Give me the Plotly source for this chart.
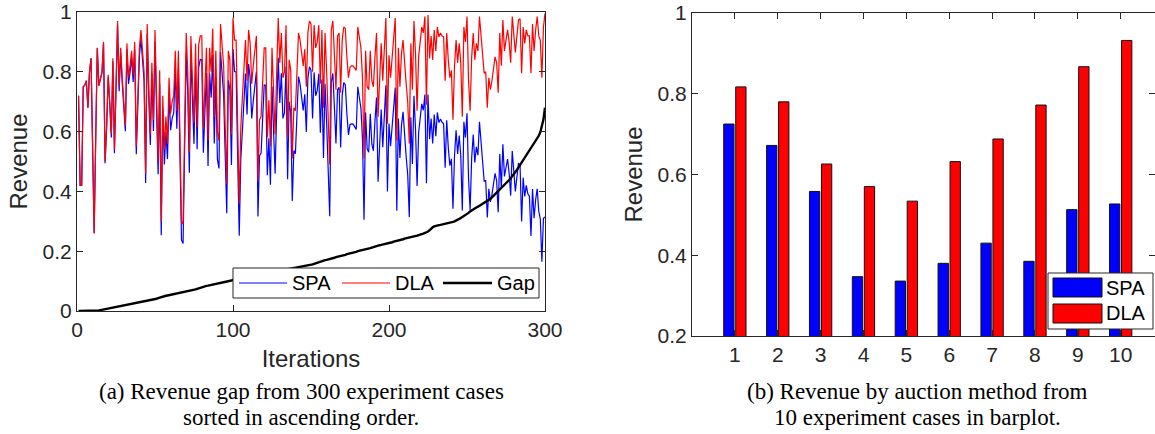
import plotly.graph_objects as go

# ---------------- data ----------------
iterations = list(range(1, 301))

dla = [
    0.72, 0.42, 0.42, 0.75, 0.755, 0.77, 0.68, 0.80, 0.845, 0.55,
    0.26, 0.58, 0.88, 0.755, 0.78, 0.80, 0.90, 0.50, 0.62, 0.79,
    0.70, 0.59, 0.845, 0.54, 0.75, 0.97, 0.75, 0.88, 0.78, 0.70,
    0.62, 0.895, 0.78, 0.82, 0.87, 0.79, 0.90, 0.55, 0.74, 0.88,
    0.94, 0.86, 0.80, 0.46, 0.96, 0.75, 0.59, 0.83, 0.64, 0.94,
    0.70, 0.50, 0.805, 0.30, 0.72, 0.54, 0.65, 0.56, 0.78, 0.66,
    0.70, 0.72, 0.87, 0.67, 0.87, 0.58, 0.30, 0.29, 0.61, 0.93,
    0.80, 0.53, 0.92, 0.78, 0.63, 0.895, 0.615, 0.89, 0.92, 0.92,
    0.61, 0.75, 0.88, 0.57, 0.88, 0.80, 0.945, 0.65, 0.87, 0.60,
    0.57, 0.96, 0.88, 0.82, 0.62, 0.425, 0.87, 0.84, 0.59, 0.98,
    0.906, 0.906, 0.62, 0.36, 0.615, 0.73, 0.845, 0.906, 0.77, 0.94,
    0.895, 0.76, 0.82, 0.87, 0.92, 0.436, 0.64, 0.65, 0.77, 0.88,
    0.88, 0.58, 0.705, 0.55, 0.88, 0.69, 0.59, 0.80, 0.98, 0.83,
    0.93, 0.78, 0.80, 0.956, 0.58, 0.84, 0.805, 0.51, 0.68, 0.67,
    0.82, 0.93, 0.906, 0.85, 0.82, 0.875, 0.75, 0.93, 0.97, 0.96,
    0.80, 0.956, 0.88, 0.90, 0.956, 0.76, 0.94, 0.68, 0.93, 0.805,
    0.66, 0.49, 0.94, 0.97, 0.86, 0.74, 0.92, 0.93, 0.73, 0.906,
    0.95, 0.945, 0.85, 0.78, 0.815, 0.82, 0.82, 0.81, 0.805, 0.95,
    0.92, 0.88, 0.78, 0.51, 0.87, 0.75, 0.74, 0.87, 0.77, 0.75,
    0.85, 0.93, 0.65, 0.805, 0.895, 0.77, 0.88, 0.98, 0.626, 0.855,
    0.78, 0.84, 0.90, 0.98, 0.57, 0.88, 0.75, 0.86, 0.906, 0.82,
    0.76, 0.70, 0.56, 0.895, 0.74, 0.97, 0.86, 0.67, 0.85, 0.90,
    0.95, 0.93, 0.985, 0.69, 0.99, 0.845, 0.92, 0.84, 0.94, 0.87,
    0.95, 0.917, 0.93, 0.92, 0.917, 0.77, 0.93, 0.84, 0.78, 0.805,
    0.64, 0.82, 0.906, 0.83, 0.895, 0.83, 0.65, 0.95, 0.90, 0.985,
    0.77, 0.67, 0.85, 0.93, 0.84, 0.895, 0.87, 0.985, 0.92, 0.87,
    0.795, 0.80, 0.68, 0.78, 0.74, 0.77, 0.82, 0.85, 0.83, 0.73,
    0.93, 0.82, 0.973, 0.87, 0.906, 0.94, 0.90, 0.83, 0.985, 0.92,
    0.865, 0.92, 0.973, 0.978, 0.795, 0.95, 0.895, 0.94, 0.92, 0.92,
    0.795, 0.96, 0.87, 0.94, 0.985, 0.92, 0.905, 0.78, 0.95, 0.995,
]

spa = [
    0.72, 0.42, 0.42, 0.75, 0.755, 0.77, 0.68, 0.80, 0.845, 0.55,
    0.26, 0.58, 0.879, 0.753, 0.777, 0.796, 0.895, 0.494, 0.613, 0.782,
    0.691, 0.580, 0.834, 0.528, 0.737, 0.956, 0.735, 0.864, 0.763, 0.682,
    0.601, 0.875, 0.759, 0.798, 0.847, 0.766, 0.875, 0.524, 0.713, 0.852,
    0.911, 0.830, 0.769, 0.428, 0.927, 0.716, 0.555, 0.794, 0.602, 0.900,
    0.659, 0.457, 0.760, 0.253, 0.671, 0.490, 0.599, 0.508, 0.727, 0.605,
    0.644, 0.663, 0.812, 0.610, 0.809, 0.518, 0.237, 0.226, 0.545, 0.864,
    0.733, 0.462, 0.851, 0.710, 0.559, 0.823, 0.541, 0.814, 0.842, 0.840,
    0.529, 0.668, 0.796, 0.485, 0.794, 0.713, 0.857, 0.560, 0.779, 0.508,
    0.477, 0.866, 0.785, 0.724, 0.523, 0.327, 0.771, 0.740, 0.488, 0.876,
    0.801, 0.800, 0.513, 0.252, 0.506, 0.620, 0.734, 0.794, 0.657, 0.826,
    0.780, 0.644, 0.703, 0.752, 0.801, 0.316, 0.519, 0.528, 0.647, 0.756,
    0.755, 0.454, 0.578, 0.422, 0.751, 0.560, 0.459, 0.668, 0.847, 0.696,
    0.795, 0.644, 0.663, 0.818, 0.441, 0.700, 0.664, 0.368, 0.537, 0.526,
    0.675, 0.784, 0.759, 0.702, 0.671, 0.725, 0.599, 0.778, 0.817, 0.805,
    0.644, 0.798, 0.720, 0.738, 0.793, 0.596, 0.774, 0.512, 0.760, 0.634,
    0.488, 0.317, 0.765, 0.794, 0.682, 0.560, 0.739, 0.748, 0.547, 0.721,
    0.764, 0.757, 0.660, 0.589, 0.623, 0.626, 0.625, 0.614, 0.607, 0.750,
    0.719, 0.678, 0.576, 0.305, 0.664, 0.542, 0.531, 0.660, 0.558, 0.536,
    0.635, 0.714, 0.432, 0.585, 0.674, 0.548, 0.656, 0.755, 0.400, 0.627,
    0.551, 0.610, 0.668, 0.747, 0.335, 0.644, 0.512, 0.621, 0.666, 0.578,
    0.517, 0.456, 0.314, 0.648, 0.492, 0.720, 0.609, 0.418, 0.596, 0.645,
    0.693, 0.671, 0.724, 0.427, 0.724, 0.575, 0.644, 0.560, 0.657, 0.585,
    0.664, 0.630, 0.642, 0.631, 0.627, 0.479, 0.638, 0.547, 0.486, 0.509,
    0.342, 0.520, 0.604, 0.525, 0.587, 0.519, 0.336, 0.633, 0.580, 0.661,
    0.442, 0.337, 0.513, 0.590, 0.497, 0.549, 0.521, 0.633, 0.565, 0.512,
    0.434, 0.436, 0.313, 0.409, 0.365, 0.390, 0.435, 0.460, 0.435, 0.330,
    0.525, 0.410, 0.558, 0.450, 0.480, 0.508, 0.462, 0.386, 0.535, 0.464,
    0.400, 0.448, 0.493, 0.490, 0.299, 0.446, 0.383, 0.420, 0.392, 0.384,
    0.251, 0.408, 0.310, 0.372, 0.409, 0.334, 0.307, 0.165, 0.310, 0.315,
]

gap = [
    0, 0, 0, 0, 0, 0, 0, 0, 0, 0,
    0, 0, 0.001, 0.002, 0.003, 0.004, 0.005, 0.006, 0.007, 0.008,
    0.009, 0.010, 0.011, 0.012, 0.013, 0.014, 0.015, 0.016, 0.017, 0.018,
    0.019, 0.020, 0.021, 0.022, 0.023, 0.024, 0.025, 0.026, 0.027, 0.028,
    0.029, 0.030, 0.031, 0.032, 0.033, 0.034, 0.035, 0.036, 0.038, 0.040,
    0.041, 0.043, 0.045, 0.047, 0.049, 0.050, 0.051, 0.052, 0.053, 0.055,
    0.056, 0.057, 0.058, 0.060, 0.061, 0.062, 0.063, 0.064, 0.065, 0.066,
    0.067, 0.068, 0.069, 0.070, 0.071, 0.072, 0.074, 0.076, 0.078, 0.080,
    0.081, 0.082, 0.084, 0.085, 0.086, 0.087, 0.088, 0.090, 0.091, 0.092,
    0.093, 0.094, 0.095, 0.096, 0.097, 0.098, 0.099, 0.100, 0.102, 0.104,
    0.105, 0.106, 0.107, 0.108, 0.109, 0.110, 0.111, 0.112, 0.113, 0.114,
    0.115, 0.116, 0.117, 0.118, 0.119, 0.120, 0.121, 0.122, 0.123, 0.124,
    0.125, 0.126, 0.127, 0.128, 0.129, 0.130, 0.131, 0.132, 0.133, 0.134,
    0.135, 0.136, 0.137, 0.138, 0.139, 0.140, 0.141, 0.142, 0.143, 0.144,
    0.145, 0.146, 0.147, 0.148, 0.149, 0.150, 0.151, 0.152, 0.153, 0.155,
    0.156, 0.158, 0.160, 0.162, 0.163, 0.164, 0.166, 0.168, 0.170, 0.171,
    0.172, 0.173, 0.175, 0.176, 0.178, 0.180, 0.181, 0.182, 0.183, 0.185,
    0.186, 0.188, 0.190, 0.191, 0.192, 0.194, 0.195, 0.196, 0.198, 0.200,
    0.201, 0.202, 0.204, 0.205, 0.206, 0.208, 0.209, 0.210, 0.212, 0.214,
    0.215, 0.216, 0.218, 0.220, 0.221, 0.222, 0.224, 0.225, 0.226, 0.228,
    0.229, 0.230, 0.232, 0.233, 0.235, 0.236, 0.238, 0.239, 0.240, 0.242,
    0.243, 0.244, 0.246, 0.247, 0.248, 0.250, 0.251, 0.252, 0.254, 0.255,
    0.257, 0.259, 0.261, 0.263, 0.266, 0.270, 0.276, 0.280, 0.283, 0.285,
    0.286, 0.287, 0.288, 0.289, 0.290, 0.291, 0.292, 0.293, 0.294, 0.296,
    0.298, 0.300, 0.302, 0.305, 0.308, 0.311, 0.314, 0.317, 0.320, 0.324,
    0.328, 0.333, 0.337, 0.340, 0.343, 0.346, 0.349, 0.352, 0.355, 0.358,
    0.361, 0.364, 0.367, 0.371, 0.375, 0.380, 0.385, 0.390, 0.395, 0.400,
    0.405, 0.410, 0.415, 0.420, 0.426, 0.432, 0.438, 0.444, 0.450, 0.456,
    0.465, 0.472, 0.480, 0.488, 0.496, 0.504, 0.512, 0.520, 0.528, 0.536,
    0.544, 0.552, 0.560, 0.568, 0.576, 0.586, 0.598, 0.615, 0.640, 0.680,
]

cases = [1, 2, 3, 4, 5, 6, 7, 8, 9, 10]
spa_bar = [0.725, 0.672, 0.558, 0.347, 0.336, 0.380, 0.430, 0.385, 0.513, 0.527]
dla_bar = [0.817, 0.780, 0.626, 0.570, 0.534, 0.632, 0.688, 0.772, 0.867, 0.932]

left_y_ticks = [0, 0.2, 0.4, 0.6, 0.8, 1]
left_y_labels = ["0", "0.2", "0.4", "0.6", "0.8", "1"]
left_x_ticks = [0, 100, 200, 300]
right_y_ticks = [0.2, 0.4, 0.6, 0.8, 1]
right_y_labels = ["0.2", "0.4", "0.6", "0.8", "1"]

caption_a = ["(a) Revenue gap from 300 experiment cases", "sorted in ascending order."]
caption_b = ["(b) Revenue by auction method from", "10 experiment cases in barplot."]

# ---------------- layout helpers ----------------
W, H = 1155, 434


def px(x):
    return x / W


def py(y):
    return 1 - y / H


AX = "#262626"
BLUE = "#0000ff"
RED = "#ff0000"
SANS = "Liberation Sans, Arial, Helvetica, sans-serif"
SERIF = "Liberation Serif, Times New Roman, serif"

fig = go.Figure()

# ---------------- left panel: lines ----------------
fig.add_trace(go.Scatter(x=iterations, y=spa, mode="lines", name="SPA",
                         line=dict(color=BLUE, width=1.2), xaxis="x", yaxis="y",
                         showlegend=False))
fig.add_trace(go.Scatter(x=iterations, y=dla, mode="lines", name="DLA",
                         line=dict(color=RED, width=1.2), xaxis="x", yaxis="y",
                         showlegend=False))
fig.add_trace(go.Scatter(x=iterations, y=gap, mode="lines", name="Gap",
                         line=dict(color="black", width=2.4), xaxis="x", yaxis="y",
                         showlegend=False))

# ---------------- right panel: grouped bars ----------------
fig.add_trace(go.Bar(x=cases, y=spa_bar, name="SPA", xaxis="x2", yaxis="y2",
                     marker=dict(color=BLUE, line=dict(color="#111111", width=1)),
                     showlegend=False))
fig.add_trace(go.Bar(x=cases, y=dla_bar, name="DLA", xaxis="x2", yaxis="y2",
                     marker=dict(color=RED, line=dict(color="#111111", width=1)),
                     showlegend=False))

axis_common = dict(
    showline=True, linecolor=AX, linewidth=1, mirror="ticks",
    ticks="inside", ticklen=6, tickwidth=1, tickcolor=AX,
    showgrid=False, zeroline=False, automargin=False,
    tickfont=dict(family=SANS, size=21, color=AX),
)

fig.update_layout(
    width=W, height=H,
    margin=dict(l=0, r=0, t=0, b=0, autoexpand=False),
    paper_bgcolor="white", plot_bgcolor="white",
    showlegend=False,
    barmode="group", bargap=0.44, bargroupgap=0.14,
    xaxis=dict(domain=[px(77), px(545)], range=[0, 300], tickvals=left_x_ticks,
               anchor="y",
               title=dict(text="Iterations", font=dict(family=SANS, size=24, color=AX),
                          standoff=9),
               **axis_common),
    yaxis=dict(domain=[py(311), py(12)], range=[0, 1], tickvals=left_y_ticks,
               ticktext=left_y_labels, anchor="x",
               title=dict(text="Revenue", font=dict(family=SANS, size=24, color=AX),
                          standoff=8),
               **axis_common),
    xaxis2=dict(domain=[px(692), 1.0], range=[0, 10.8], tickvals=cases,
                anchor="y2", **axis_common),
    yaxis2=dict(domain=[py(336), py(13)], range=[0.2, 1], tickvals=right_y_ticks,
                ticktext=right_y_labels, anchor="x2",
                title=dict(text="Revenue", font=dict(family=SANS, size=24, color=AX),
                           standoff=8),
                **axis_common),
)

shapes = []
annotations = []

# left legend (box with line samples)
shapes.append(dict(type="rect", xref="paper", yref="paper",
                   x0=px(233), x1=px(539), y0=py(298), y1=py(268),
                   line=dict(color=AX, width=1), fillcolor="white"))
legend_left = [("SPA", BLUE, 1.2, 239, 287, 290),
               ("DLA", RED, 1.2, 342, 390, 393),
               ("Gap", "black", 2.4, 443, 492, 495)]
for name, col, lw, x0, x1, tx in legend_left:
    shapes.append(dict(type="line", xref="paper", yref="paper",
                       x0=px(x0), x1=px(x1), y0=py(283), y1=py(283),
                       line=dict(color=col, width=lw)))
    annotations.append(dict(text=name, xref="paper", yref="paper",
                            x=px(tx), y=py(283), xanchor="left", yanchor="middle",
                            showarrow=False,
                            font=dict(family=SANS, size=20, color="black")))

# right legend (box with filled swatches)
shapes.append(dict(type="rect", xref="paper", yref="paper",
                   x0=px(1048), x1=px(1153), y0=py(329), y1=py(273),
                   line=dict(color=AX, width=1), fillcolor="white"))
legend_right = [("SPA", BLUE, 278, 297, 288), ("DLA", RED, 304, 323, 313)]
for name, col, y0, y1, ty in legend_right:
    shapes.append(dict(type="rect", xref="paper", yref="paper",
                       x0=px(1053), x1=px(1102), y0=py(y1), y1=py(y0),
                       line=dict(color="#111111", width=1), fillcolor=col))
    annotations.append(dict(text=name, xref="paper", yref="paper",
                            x=px(1104), y=py(ty), xanchor="left", yanchor="middle",
                            showarrow=False,
                            font=dict(family=SANS, size=20, color="black")))

# captions
for cx, lines in ((301, caption_a), (917, caption_b)):
    for line_text, cy in zip(lines, (391, 417)):
        annotations.append(dict(text=line_text, xref="paper", yref="paper",
                                x=px(cx), y=py(cy), xanchor="center", yanchor="middle",
                                showarrow=False,
                                font=dict(family=SERIF, size=23, color="black")))

fig.update_layout(shapes=shapes, annotations=annotations)

fig.write_html(
    "out.html",
    config={"displayModeBar": False, "staticPlot": True},
    post_script="document.body.style.margin='0';document.body.style.overflow='hidden';",
)
